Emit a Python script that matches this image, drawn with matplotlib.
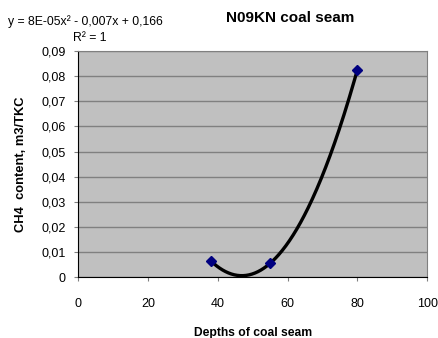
import numpy as np
import matplotlib
matplotlib.use("Agg")
import matplotlib.pyplot as plt
from matplotlib.ticker import FuncFormatter, MultipleLocator

plt.rcParams['font.family'] = ['Liberation Sans', 'DejaVu Sans']

# data
depth = [38, 55, 80]
ch4 = [0.0065, 0.0055, 0.0825]

title = "N09KN coal seam"
xlabel = "Depths of coal seam"
ylabel = "CH4  content, m3/TKC"
eq_text = "y = 8E-05x² - 0,007x + 0,166"
r2_text = "R² = 1"

# polynomial trendline (order 2) through the points
coef = np.polyfit(depth, ch4, 2)
xs = np.linspace(min(depth), max(depth), 200)
ys = np.polyval(coef, xs)

fig = plt.figure(figsize=(4.39, 3.38), dpi=100)
ax = fig.add_axes([0.178, 0.180, 0.795, 0.669])
ax.set_facecolor('#c0c0c0')

ax.plot(xs, ys, color='black', lw=2.4, zorder=3)
ax.plot(depth, ch4, ls='none', marker='D', ms=5.5, color='#000080', zorder=4)

ax.set_xlim(0, 100)
ax.set_ylim(0, 0.09)
ax.xaxis.set_major_locator(MultipleLocator(20))
ax.yaxis.set_major_locator(MultipleLocator(0.01))
ax.yaxis.set_major_formatter(FuncFormatter(lambda v, p: '0' if abs(v) < 1e-9 else ('%.2f' % v).replace('.', ',')))
ax.grid(axis='y', color='#808080', lw=1)
ax.set_axisbelow(True)

for s in ['top', 'right']:
    ax.spines[s].set_color('#808080')
for s in ['left', 'bottom']:
    ax.spines[s].set_color('black')
ax.tick_params(length=3, width=0.8, color='#808080', labelsize=9, pad=6)
ax.tick_params(axis='x', pad=12)

ax.set_xlabel(xlabel, fontsize=8.7, fontweight='bold', labelpad=12)
ax.set_ylabel(ylabel, fontsize=9.3, fontweight='bold', labelpad=10)

fig.text(0.661, 0.947, title, ha='center', va='center', fontsize=11, fontweight='bold')
fig.text(0.018, 0.935, eq_text, ha='left', va='center', fontsize=8.8)
fig.text(0.166, 0.887, r2_text, ha='left', va='center', fontsize=8.8)

fig.savefig('out.png', dpi=100)
